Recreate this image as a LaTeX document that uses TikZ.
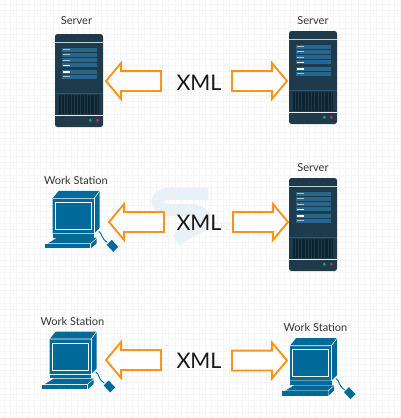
\documentclass[tikz,border=0pt]{standalone}
\usepackage{fontspec}
\setmainfont{Lato}
\usetikzlibrary{positioning,shapes.arrows}
\definecolor{srvbody}{HTML}{1F3A4B}
\definecolor{srvbar}{HTML}{27668E}
\definecolor{srvvent}{HTML}{0F2433}
\definecolor{srvgreen}{HTML}{1E9A6B}
\definecolor{srvred}{HTML}{B03050}
\definecolor{wsblue}{HTML}{02699B}
\definecolor{xmlorange}{HTML}{F7941D}
\definecolor{wmblue}{HTML}{E6F2F8}

\begin{document}
\begin{tikzpicture}[
  x=1pt, y=-1pt,
  font=\fontsize{11}{13}\selectfont,
  lbl/.style    = {text=black!80, inner sep=0pt},
  xmllbl/.style = {font=\fontsize{21.5}{26}\selectfont, text=black!90, inner sep=0pt},
  wmlbl/.style  = {font=\fontsize{11}{13}\selectfont, text=black!7, inner sep=0pt},
  xarrow/.style = {single arrow, draw=xmlorange, fill=white, line width=1.9pt,
                   minimum width=34pt, minimum height=55pt, inner sep=0pt, inner ysep=9pt,
                   single arrow head extend=8pt, single arrow tip angle=100, outer sep=0pt,
                   anchor=tip},
  toleft/.style = {xarrow, shape border rotate=180},
  toright/.style= {xarrow, shape border rotate=0},
  hicol/.style  = {draw=white, line width=1.1pt},
  locol/.style  = {draw=white!60!srvbar, line width=1.1pt},
  pics/slot/.style 2 args = {code={
    \fill[srvbar] (0,0) rectangle (35,4);
    \fill[srvbar] (0,4.8) rectangle (35,8.8);
    \draw[#1] (1.5,2) -- (8,2);
    \draw[#2] (1.5,6.8) -- (8,6.8);
  }},
  pics/server/.style = {code={
    \fill[srvbody, rounded corners=2.5pt] (0,0) rectangle (48,93);
    \draw[white!75!srvbody, line width=1pt] (0,8) -- (48,8);
    \pic at (6.7,13.7) {slot={locol}{locol}};
    \pic at (6.7,24.3) {slot={locol}{hicol}};
    \pic at (6.7,36)   {slot={hicol}{locol}};
    \draw[srvbar!70!srvbody, line width=.7pt] (0,59.3) -- (48,59.3);
    \fill[srvvent] (4,61) rectangle (44,80);
    \foreach \vx in {6,9.3,...,43}
      \draw[srvbody, line width=.8pt] (\vx,61) -- (\vx,80);
    \draw[white!90!srvbody, line width=1pt] (0,81) -- (48,81);
    \fill[srvgreen] (35.3,86.3) circle (1.7);
    \fill[srvred] (42.3,86.3) circle (1.7);
  }},
  pics/station/.style = {code={
    % monitor
    \fill[wsblue] (0,0) -- (6,-7.5) -- (47,-7.5) -- (47,29.5) -- (41.5,35) -- (0,35) -- cycle;
    \draw[white, line width=.6pt] (0,0) -- (41.5,0) -- (47,-7.5);
    \draw[white, line width=.6pt] (41.5,0) -- (41.5,35);
    \draw[white, line width=1pt] (2.5,4) rectangle (38.5,31);
    % base and keyboard
    \fill[wsblue] (0,35.7) rectangle (41.5,39.4);
    \fill[wsblue] (-4.7,45) -- (4,39.6) -- (44,39.6) -- (37.5,45) -- cycle;
    \fill[wsblue] (-7.7,45.7) rectangle (37.5,50);
    \fill[wsblue] (38.3,45.5) -- (44,40.5) -- (44,45) -- (38.3,50) -- cycle;
    % mouse
    \draw[wsblue, line width=.9pt] (46,33) .. controls (50,35) and (48,40) .. (54.5,44);
    \fill[wsblue] (54,46.5) -- (59,41.5) -- (65.5,48.5) -- (60.5,53.5) -- cycle;
  }},
]

% ---------------- grid and watermark ------------------------------------
\useasboundingbox (0,0) rectangle (401,418);
\fill[white] (0,0) rectangle (401,418);
\foreach \gx in {4,10.1,...,401} \draw[black!4, line width=.6pt] (\gx,0) -- (\gx,418);
\foreach \gy in {4,10.1,...,418} \draw[black!4, line width=.6pt] (0,\gy) -- (401,\gy);
\draw[wmblue, line width=12pt]
  (208,194) -- (168,194) .. controls (154,194) and (154,209) .. (168,210)
  -- (192,210) .. controls (208,210) and (208,228) .. (192,230) -- (176,240);
\node[wmlbl] (wmark) at (223,227) {ONS};

% ---------------- servers -----------------------------------------------
\pic (srvA) at (55,34)  {server};
\pic (srvB) at (289,31) {server};
\pic (srvC) at (289,178) {server};
\node[lbl] (srvAlbl) at (76.5,21)  {Server};
\node[lbl] (srvBlbl) at (313,21)   {Server};
\node[lbl] (srvClbl) at (313,168)  {Server};

% ---------------- work stations -----------------------------------------
\pic (wsA) at (52.7,198.3) {station};
\pic (wsB) at (49.7,339)   {station};
\pic (wsC) at (290,345.7)  {station};
\node[lbl] (wsAlbl) at (76,180)    {Work Station};
\node[lbl] (wsBlbl) at (72.5,321)  {Work Station};
\node[lbl] (wsClbl) at (315.5,327) {Work Station};

% ---------------- arrows ------------------------------------------------
\node[toleft]  (arAl) at (106,81)  {};
\node[toright] (arAr) at (287,81)  {};
\node[toleft]  (arBl) at (109,222) {};
\node[toright] (arBr) at (288,222) {};
\node[toleft]  (arCl) at (106,360) {};
\node[toright] (arCr) at (287,360.5) {};

% ---------------- XML labels --------------------------------------------
\node[xmllbl] (xmlA) at (199,83)  {XML};
\node[xmllbl] (xmlB) at (199,223) {XML};
\node[xmllbl] (xmlC) at (199,361) {XML};

\end{tikzpicture}
\end{document}
